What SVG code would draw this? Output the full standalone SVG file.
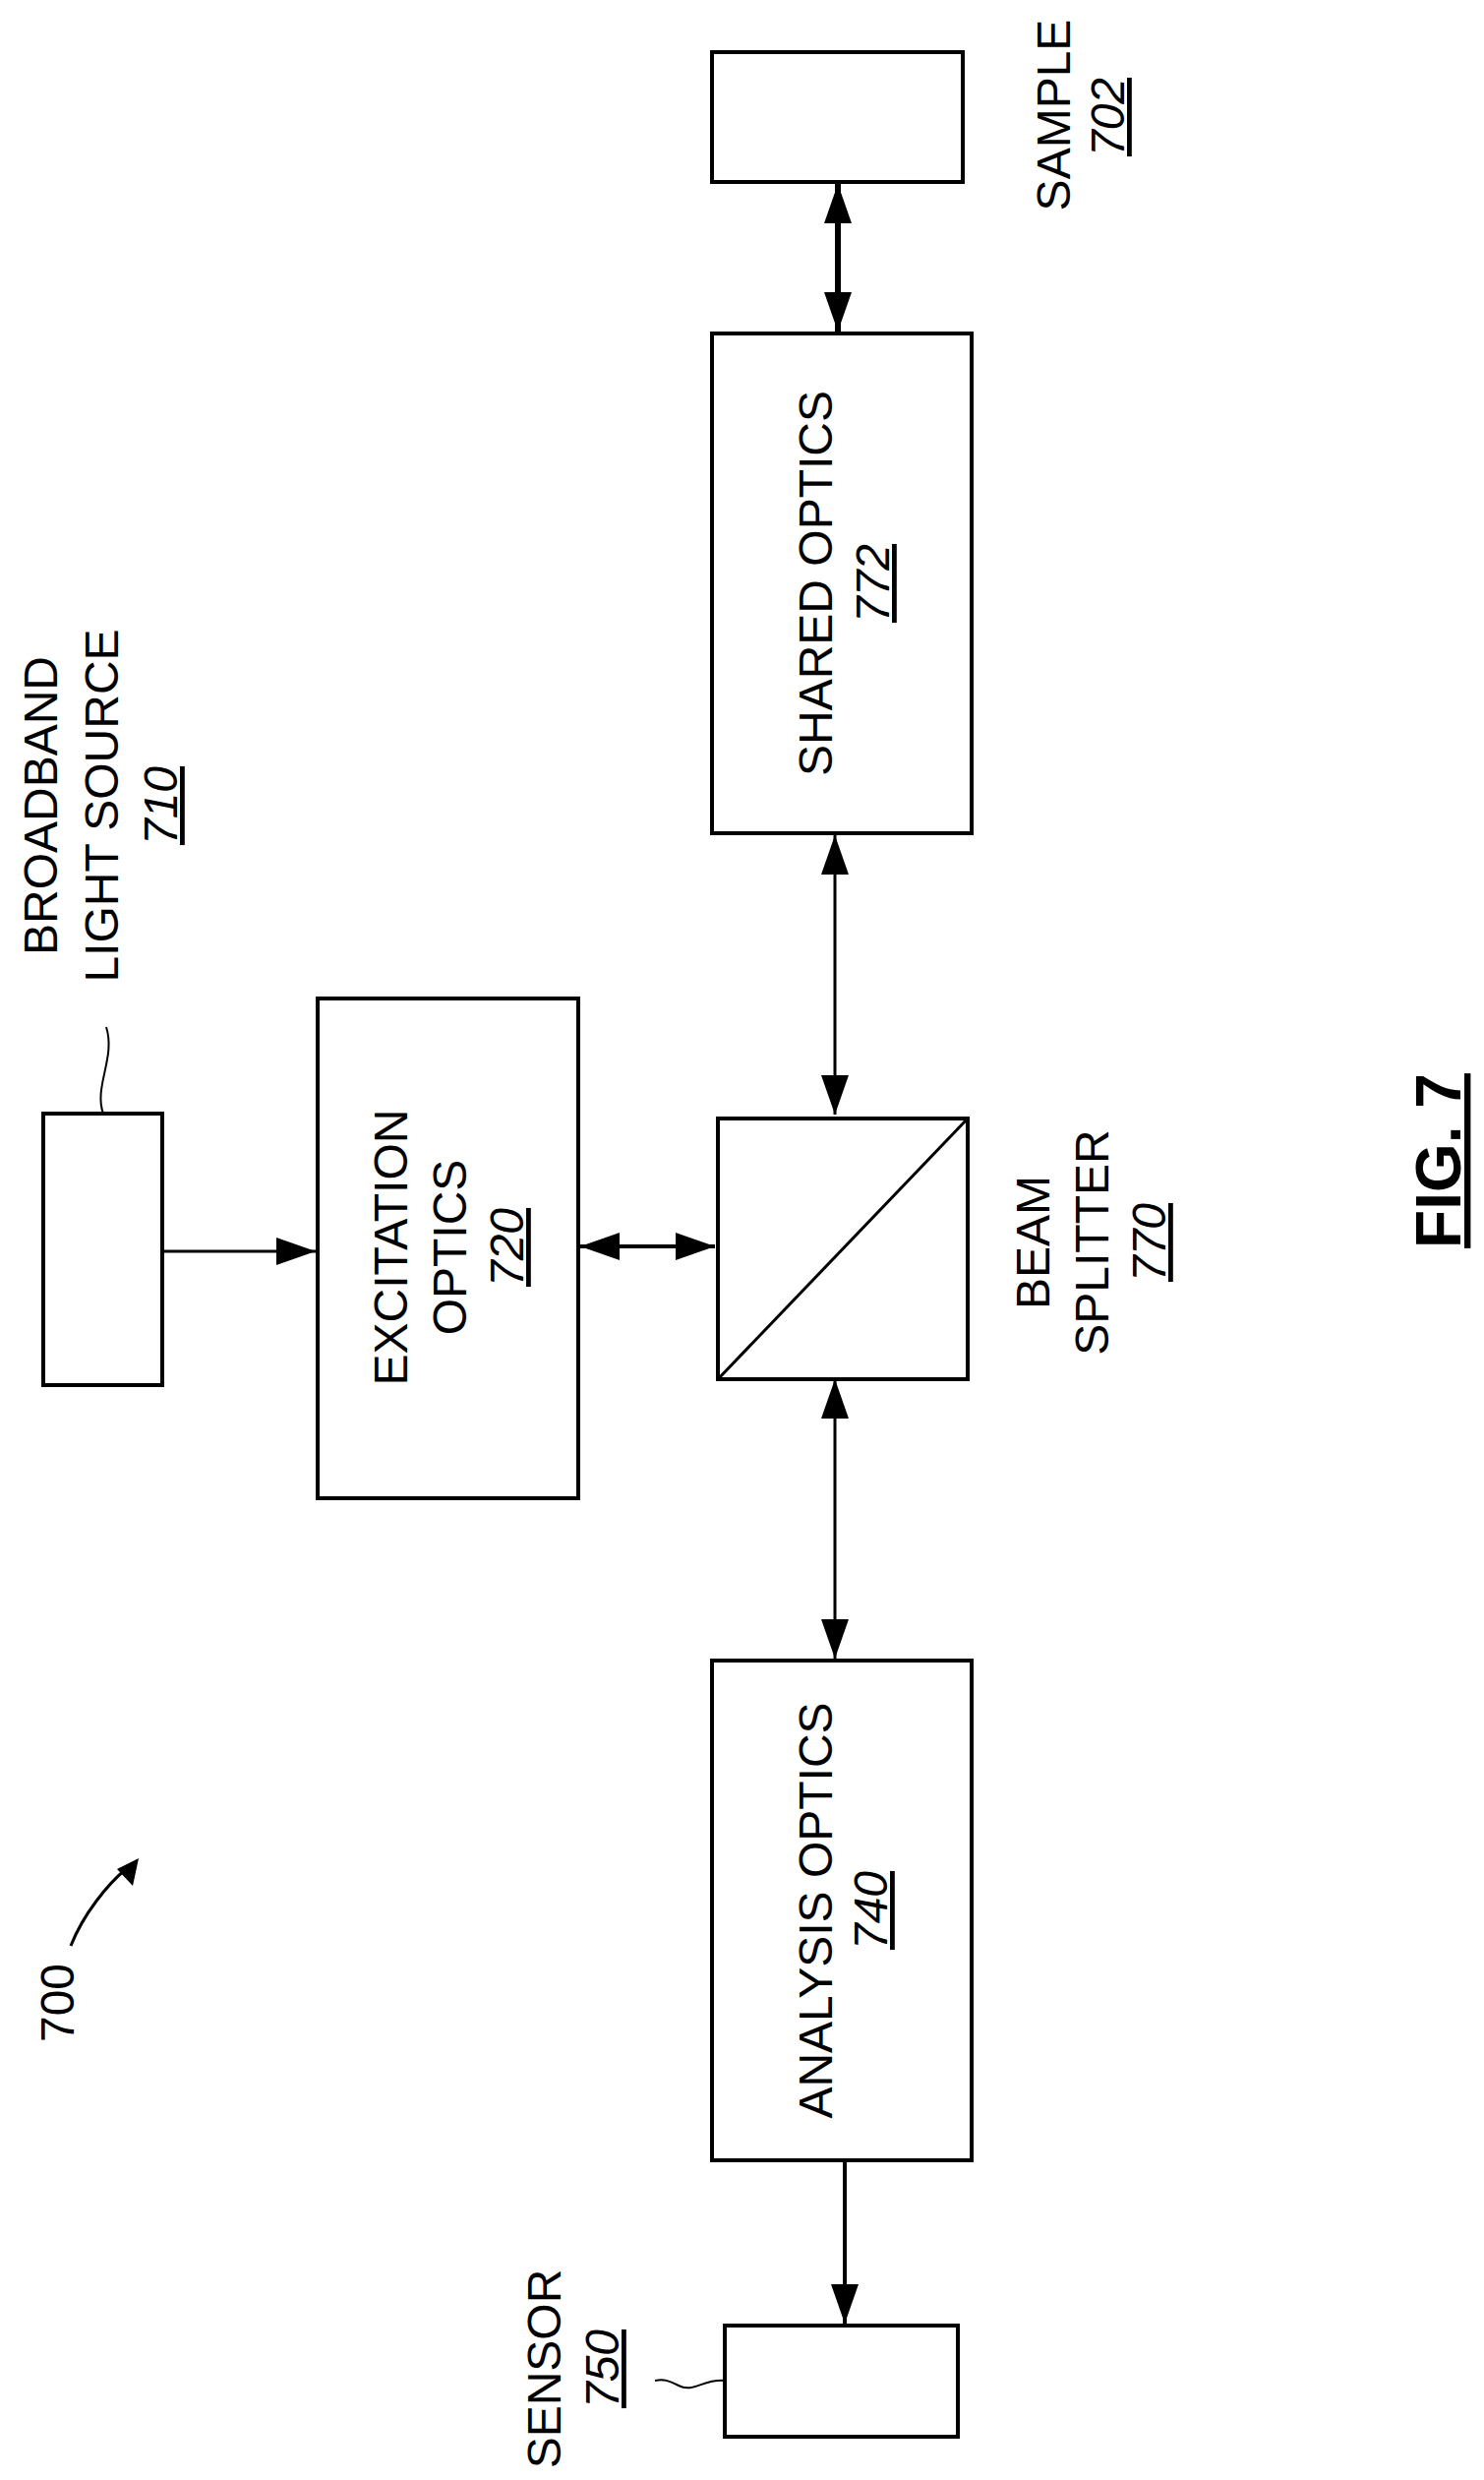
<svg xmlns="http://www.w3.org/2000/svg" width="1509" height="2521" viewBox="0 0 1509 2521">
<style>
.b{fill:#fff;stroke:#000;stroke-width:4}
.c{fill:none;stroke:#000;stroke-width:3}
.t{font-family:"Liberation Sans",Arial,sans-serif;font-size:48px;fill:#000;text-anchor:middle}
.u{text-decoration:underline;font-style:italic}
</style>
<defs>
<marker id="a" markerUnits="userSpaceOnUse" markerWidth="40" markerHeight="28" viewBox="0 0 40 28" refX="40" refY="14" orient="auto-start-reverse"><path d="M0,0L40,14L0,28z" fill="#000"/></marker>
</defs>
<g id="connectors">
<line x1="852" y1="187" x2="852" y2="337" class="c" style="stroke-width:6" marker-start="url(#a)" marker-end="url(#a)"/>
<line x1="849" y1="849" x2="849" y2="1133" class="c" marker-start="url(#a)" marker-end="url(#a)"/>
<line x1="849" y1="1402" x2="849" y2="1686" class="c" marker-start="url(#a)" marker-end="url(#a)"/>
<line x1="165" y1="1272" x2="321" y2="1272" class="c" marker-end="url(#a)"/>
<line x1="590" y1="1267" x2="727" y2="1267" class="c" style="stroke-width:4" marker-start="url(#a)" marker-end="url(#a)"/>
<line x1="859" y1="2198" x2="859" y2="2362" class="c" style="stroke-width:4" marker-end="url(#a)"/>
<path d="M72,1978 C85,1945 110,1915 128,1900" class="c"/>
<path d="M141,1889 L135,1917 L119,1900z" fill="#000"/>
</g>
<g id="sample"><rect x="724" y="53" width="255" height="132" class="b"/>
<text class="t" transform="translate(1088,117) rotate(-90)">SAMPLE</text>
<text class="t u" transform="translate(1143,119) rotate(-90)">702</text></g>
<g id="shared"><rect x="724" y="339" width="264" height="508" class="b"/>
<text class="t" transform="translate(846,593) rotate(-90)">SHARED OPTICS</text>
<text class="t u" transform="translate(904,593) rotate(-90)">772</text></g>
<g id="source"><rect x="44" y="1132" width="121" height="276" class="b"/>
<path d="M105,1132 C95,1105 118,1075 108,1044" class="c" style="stroke-width:2"/>
<text class="t" transform="translate(58,819) rotate(-90)">BROADBAND</text>
<text class="t" transform="translate(120,819) rotate(-90)">LIGHT SOURCE</text>
<text class="t u" transform="translate(180,819) rotate(-90)">710</text></g>
<g id="excitation"><rect x="323" y="1015" width="265" height="508" class="b"/>
<text class="t" transform="translate(414,1268) rotate(-90)">EXCITATION</text>
<text class="t" transform="translate(474,1268) rotate(-90)">OPTICS</text>
<text class="t u" transform="translate(532,1268) rotate(-90)">720</text></g>
<g id="splitter"><rect x="730" y="1137" width="254" height="265" class="b"/>
<line x1="730" y1="1402" x2="984" y2="1137" class="c"/>
<text class="t" transform="translate(1067,1263) rotate(-90)">BEAM</text>
<text class="t" transform="translate(1127,1263) rotate(-90)">SPLITTER</text>
<text class="t u" transform="translate(1185,1263) rotate(-90)">770</text></g>
<g id="analysis"><rect x="724" y="1688" width="264" height="508" class="b"/>
<text class="t" transform="translate(846,1942) rotate(-90)">ANALYSIS OPTICS</text>
<text class="t u" transform="translate(902,1942) rotate(-90)">740</text></g>
<g id="sensor"><rect x="737" y="2364" width="237" height="113" class="b"/>
<path d="M737,2420 C715,2418 705,2433 690,2425 C680,2420 675,2418 666,2420" class="c" style="stroke-width:2"/>
<text class="t" transform="translate(570,2408) rotate(-90)">SENSOR</text>
<text class="t u" transform="translate(629,2408) rotate(-90)">750</text></g>
<g id="label700"><text class="t" transform="translate(75,2036) rotate(-90)">700</text></g>
<g id="fig"><text class="t" style="font-size:64px;font-weight:bold;text-decoration:underline" transform="translate(1485,1180) rotate(-90)">FIG. 7</text></g>
</svg>
